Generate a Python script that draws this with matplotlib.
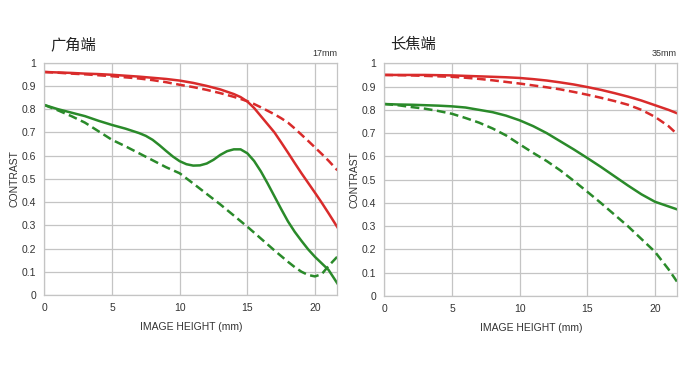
import numpy as np
import matplotlib.pyplot as plt

plt.rcParams['font.family'] = ['Liberation Sans', 'Noto Sans CJK SC', 'DejaVu Sans']

# image height positions (mm)
x = [0, 1, 2, 3, 4, 5, 6, 7, 8, 9, 10, 11, 12, 13, 14, 15, 16, 17, 18, 19, 20, 21, 21.65]

# wide end (17mm)
wide_x_red = [0, 1, 2, 3, 4, 5, 6, 7, 8, 9, 10, 11, 12, 13, 14, 14.5, 15, 15.5, 16, 16.5, 17,
              17.5, 18, 18.5, 19, 19.5, 20, 20.5, 21, 21.65]
wide_red_solid = [0.96, 0.958, 0.956, 0.953, 0.951, 0.948, 0.944, 0.94, 0.935, 0.93, 0.923, 0.913,
                  0.90, 0.885, 0.865, 0.852, 0.833, 0.805, 0.77, 0.735, 0.70, 0.657, 0.613,
                  0.568, 0.524, 0.482, 0.44, 0.397, 0.352, 0.292]
wide_red_dash = [0.96, 0.957, 0.953, 0.95, 0.946, 0.942, 0.937, 0.932, 0.925, 0.916, 0.905, 0.895,
                 0.883, 0.869, 0.853, 0.844, 0.834, 0.822, 0.808, 0.793, 0.778, 0.761, 0.742,
                 0.717, 0.69, 0.663, 0.635, 0.607, 0.578, 0.537]
wide_x_green = [0, 1, 2, 3, 4, 5, 6, 7, 7.5, 8, 8.5, 9, 9.5, 10, 10.5, 11, 11.5, 12, 12.5, 13,
                13.5, 14, 14.5, 15, 15.5, 16, 16.5, 17, 17.5, 18, 18.5, 19, 19.5, 20, 20.5, 21, 21.65]
wide_green_solid = [0.818, 0.80, 0.785, 0.77, 0.75, 0.732, 0.716, 0.697, 0.685, 0.668, 0.645,
                    0.62, 0.596, 0.576, 0.563, 0.557, 0.558, 0.566, 0.582, 0.603, 0.619, 0.627,
                    0.627, 0.61, 0.577, 0.532, 0.48, 0.425, 0.37, 0.317, 0.272, 0.233, 0.196,
                    0.164, 0.136, 0.108, 0.05]
wide_x_gdash = [0, 1, 2, 3, 4, 5, 6, 7, 8, 9, 10, 11, 12, 13, 14, 15, 16, 17, 18, 18.5, 19,
                19.5, 20, 20.5, 21, 21.65]
wide_green_dash = [0.818, 0.795, 0.77, 0.742, 0.705, 0.668, 0.64, 0.61, 0.58, 0.55, 0.524, 0.48,
                   0.435, 0.39, 0.342, 0.294, 0.243, 0.192, 0.143, 0.12, 0.10, 0.086, 0.08,
                   0.09, 0.125, 0.165]

# tele end (35mm)
tele_red_solid = [0.95, 0.95, 0.95, 0.95, 0.949, 0.948, 0.946, 0.944, 0.942, 0.94, 0.937, 0.932,
                  0.926, 0.918, 0.909, 0.898, 0.886, 0.872, 0.857, 0.84, 0.82, 0.80, 0.785]
tele_red_dash = [0.95, 0.949, 0.948, 0.946, 0.944, 0.942, 0.938, 0.933, 0.927, 0.92, 0.913, 0.905,
                 0.897, 0.888, 0.877, 0.865, 0.852, 0.838, 0.822, 0.80, 0.77, 0.73, 0.695]
tele_green_solid = [0.825, 0.823, 0.822, 0.82, 0.818, 0.815, 0.81, 0.80, 0.79, 0.775, 0.755, 0.73,
                    0.70, 0.665, 0.63, 0.593, 0.555, 0.515, 0.475, 0.437, 0.405, 0.385, 0.372]
tele_green_dash = [0.825, 0.82, 0.812, 0.805, 0.795, 0.783, 0.765, 0.745, 0.72, 0.69, 0.652, 0.615,
                   0.58, 0.54, 0.495, 0.448, 0.40, 0.35, 0.30, 0.245, 0.19, 0.115, 0.06]

red = '#d92b2b'
green = '#2a8a2a'
dash = (0, (3.5, 1.8))

fig = plt.figure(figsize=(6.98, 3.83), dpi=100)
ax1 = fig.add_axes([0.0635, 0.2298, 0.4198, 0.6065])
ax2 = fig.add_axes([0.5506, 0.2272, 0.4197, 0.6075])


def style(ax):
    ax.set_xlim(0, 21.65)
    ax.set_ylim(0, 1)
    ax.set_xticks([0, 5, 10, 15, 20])
    ax.set_yticks(np.arange(0, 1.01, 0.1))
    ax.set_yticklabels(['0', '0.1', '0.2', '0.3', '0.4', '0.5', '0.6', '0.7', '0.8', '0.9', '1'])
    ax.tick_params(length=0, labelsize=7.5, pad=6, colors='#333333')
    ax.grid(True, color='#c4c4c4', lw=0.9)
    ax.set_axisbelow(True)
    for s in ax.spines.values():
        s.set_color('#c4c4c4')
        s.set_linewidth(0.9)
    ax.set_xlabel('IMAGE HEIGHT (mm)', fontsize=7.5, color='#333333', labelpad=6)
    ax.set_ylabel('CONTRAST', fontsize=7.5, color='#333333', labelpad=1.5)


ax1.plot(wide_x_red, wide_red_solid, color=red, lw=1.8)
ax1.plot(wide_x_red, wide_red_dash, color=red, lw=1.8, ls=dash)
ax1.plot(wide_x_green, wide_green_solid, color=green, lw=1.8)
ax1.plot(wide_x_gdash, wide_green_dash, color=green, lw=1.8, ls=dash)
style(ax1)

ax2.plot(x, tele_red_solid, color=red, lw=1.8)
ax2.plot(x, tele_red_dash, color=red, lw=1.8, ls=dash)
ax2.plot(x, tele_green_solid, color=green, lw=1.8)
ax2.plot(x, tele_green_dash, color=green, lw=1.8, ls=dash)
style(ax2)

fig.text(50 / 698, 1 - 45 / 383, '广角端', fontsize=11, va='center', ha='left', color='#222222')
fig.text(390 / 698, 1 - 45 / 383, '长焦端', fontsize=11, va='center', ha='left', color='#222222')
fig.text(337 / 698, 1 - 53 / 383, '17mm', fontsize=6.5, va='center', ha='right', color='#333333')
fig.text(677 / 698, 1 - 54 / 383, '35mm', fontsize=6.5, va='center', ha='right', color='#333333')

fig.savefig('out.png', dpi=100)
